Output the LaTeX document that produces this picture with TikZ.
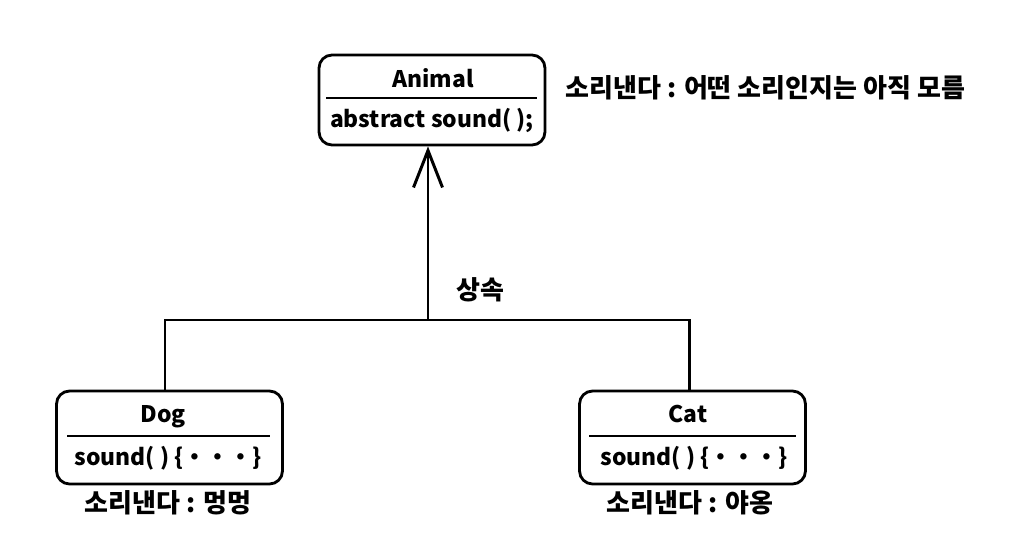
\documentclass[tikz,border=0pt]{standalone}
\usepackage{fontspec}
\setmainfont{Noto Sans CJK KR}
\usetikzlibrary{arrows.meta}

\tikzset{
  umlbox/.style={draw=black, line width=1.6pt, rounded corners=0.26cm, minimum width=4.52cm, minimum height=1.86cm},
  sepline/.style={line width=1.7pt},
  boxtext/.style={font=\fontsize{13}{15}\selectfont\bfseries, inner sep=0pt},
  notetext/.style={font=\fontsize{14.8}{17}\selectfont\bfseries, inner sep=0pt},
  link/.style={line width=1.7pt},
}

\begin{document}
\begin{tikzpicture}[x=0.02cm, y=-0.02cm]
  \useasboundingbox (0,0) rectangle (1018,541);

%classes:
  \node[umlbox, minimum height=1.8cm] (animal) at (432,100) {};
  \draw[sepline] (326,98) -- (537,98);
  \node[boxtext] (animaltitle) at (433,78) {Animal};
  \node[boxtext] (animalbody) at (432,120) {abstract sound( );};
  \node[notetext, anchor=west] (animalnote) at (565,88) {소리낸다 : 어떤 소리인지는 아직 모름};

  \node[umlbox] (dog) at (169.5,437.5) {};
  \draw[sepline] (67,436) -- (270,436);
  \node[boxtext] (dogtitle) at (163,417) {Dog};
  \node[boxtext] (dogbody) at (168,458) {sound( ) \{・・・\}};
  \node[notetext] (dognote) at (168,503) {소리낸다 : 멍멍};

  \node[umlbox] (cat) at (692.5,437.5) {};
  \draw[sepline] (589,436) -- (796,436);
  \node[boxtext] (cattitle) at (688,414) {Cat};
  \node[boxtext] (catbody) at (694,458) {sound( ) \{・・・\}};
  \node[notetext] (catnote) at (690,503) {소리낸다 : 야옹};
%%%%%%

  \coordinate (join) at (428,320);
  \draw[link] ([xshift=-0.09cm]dog.north) |- (join) -| ([xshift=-0.07cm]cat.north);
  \draw[link, -{Straight Barb[length=0.74cm, width=0.58cm, line width=1.7pt]}] (join) -- (join |- animal.south);
  \node[notetext] (inherit) at (480,290) {상속};
\end{tikzpicture}
\end{document}
